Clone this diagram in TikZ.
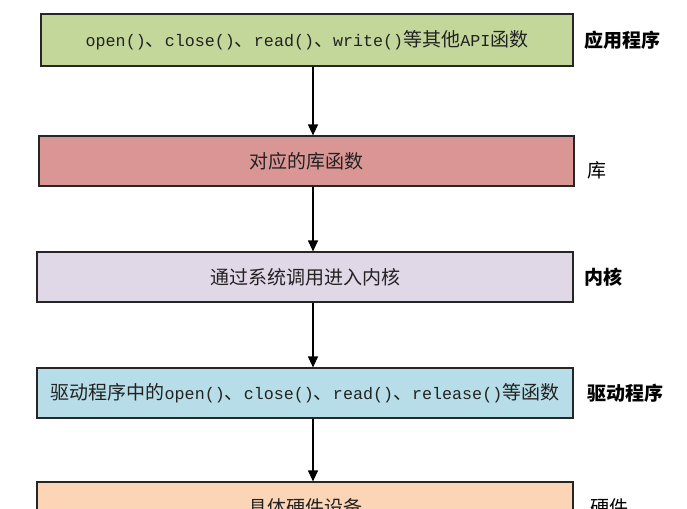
\documentclass[tikz,border=0pt]{standalone}
\usepackage{fontspec}
\usetikzlibrary{arrows.meta}
\newfontfamily\cjk{Noto Sans CJK SC}
\newfontfamily\monof{Liberation Mono}
\newcommand\mm[1]{{\monof\fontsize{16.7}{20}\selectfont #1}}
\definecolor{cA}{HTML}{C4D79B}
\definecolor{cB}{HTML}{DA9694}
\definecolor{cC}{HTML}{E0D7E7}
\definecolor{cD}{HTML}{B7DEE8}
\definecolor{cE}{HTML}{FBD5B5}
\definecolor{txt}{HTML}{222222}
\tikzset{
  layerbox/.style={draw=black!85, line width=1.2pt, rectangle, inner sep=0pt,
    text=txt, font=\cjk\fontsize{19}{23}\selectfont},
  sidelabel/.style={anchor=west, inner sep=0pt, text=black, font=\cjk\fontsize{19}{23}\selectfont},
  arr/.style={draw=black, line width=1.2pt, -{Triangle[width=10pt,length=11pt]}}
}
\begin{document}
\begin{tikzpicture}[x=1pt,y=-1pt]
\useasboundingbox (0,0) rectangle (687,508);
\clip (0,0) rectangle (687,508);
\fill[white] (0,0) rectangle (687,508);
\node[layerbox, fill=cA, minimum width=532pt, minimum height=52pt] (b1) at (307,40)
  {\mm{open()}、\mm{close()}、\mm{read()}、\mm{write()}等其他\mm{API}函数};
\node[layerbox, fill=cB, minimum width=535pt, minimum height=50pt] (b2) at (306.5,161) {对应的库函数};
\node[layerbox, fill=cC, minimum width=536pt, minimum height=50pt] (b3) at (305,277) {通过系统调用进入内核};
\node[layerbox, fill=cD, minimum width=536pt, minimum height=50pt] (b4) at (305,393)
  {驱动程序中的\mm{open()}、\mm{close()}、\mm{read()}、\mm{release()}等函数};
\node[layerbox, fill=cE, minimum width=536pt, minimum height=50pt] (b5) at (305,507) {具体硬件设备};
\node[sidelabel, font=\cjk\bfseries\fontsize{19}{23}\selectfont] (l1) at (584,40) {应用程序};
\node[sidelabel] (l2) at (587,170) {库};
\node[sidelabel, font=\cjk\bfseries\fontsize{19}{23}\selectfont] (l3) at (584,277) {内核};
\node[sidelabel, font=\cjk\bfseries\fontsize{19}{23}\selectfont] (l4) at (587,393) {驱动程序};
\node[sidelabel] (l5) at (590,507) {硬件};
\coordinate (ax) at (313,0);
\draw[arr] (b1.south -| ax) -- (b2.north -| ax);
\draw[arr] (b2.south -| ax) -- (b3.north -| ax);
\draw[arr] (b3.south -| ax) -- (b4.north -| ax);
\draw[arr] (b4.south -| ax) -- (b5.north -| ax);
\end{tikzpicture}
\end{document}
